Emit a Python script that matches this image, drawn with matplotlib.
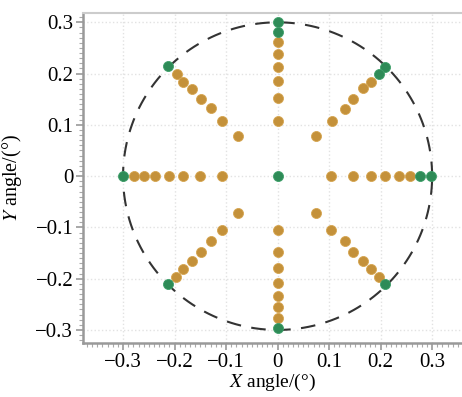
import numpy as np
import matplotlib.pyplot as plt
from matplotlib.ticker import MultipleLocator

# orange (interior) field points
orange_x = [-0.279, -0.260, -0.238, -0.211, -0.184, -0.151, -0.107,
            0.103, 0.147, 0.182, 0.209, 0.236, 0.258,
            0, 0, 0, 0, 0, 0,
            0, 0, 0, 0, 0, 0, 0,
            -0.196, -0.184, -0.167, -0.149, -0.130, -0.107, -0.076,
            0.182, 0.165, 0.147, 0.130, 0.105, 0.074,
            -0.198, -0.184, -0.167, -0.149, -0.130, -0.107, -0.076,
            0.074, 0.103, 0.130, 0.147, 0.165, 0.182, 0.196]
orange_y = [0, 0, 0, 0, 0, 0, 0,
            0, 0, 0, 0, 0, 0,
            0.262, 0.239, 0.213, 0.185, 0.152, 0.107,
            -0.105, -0.148, -0.179, -0.208, -0.233, -0.256, -0.276,
            0.200, 0.184, 0.169, 0.151, 0.132, 0.107, 0.078,
            0.184, 0.171, 0.151, 0.130, 0.107, 0.078,
            -0.196, -0.181, -0.165, -0.148, -0.126, -0.105, -0.072,
            -0.072, -0.105, -0.126, -0.148, -0.165, -0.181, -0.196]

# green (edge / centre) points
green_x = [0, -0.300, 0.277, 0.298, 0, 0, 0, -0.213, 0.209, 0.196, -0.213, 0.209]
green_y = [0, 0, 0, 0, 0.301, 0.282, -0.297, 0.214, 0.212, 0.200, -0.210, -0.210]

radius = 0.3

plt.rcParams['font.family'] = ['Liberation Serif', 'DejaVu Serif']
plt.rcParams['mathtext.fontset'] = 'stix'

fig = plt.figure(figsize=(4.62, 3.97), dpi=100)
ax = fig.add_axes([0.1797, 0.136, 0.8203, 0.831])

ax.grid(True, which='major', color='#e2e2e2', linestyle=':', linewidth=1.0)
ax.set_axisbelow(True)

t = np.linspace(0, 2 * np.pi, 400)
ax.plot(radius * np.cos(t), radius * np.sin(t), color='#333333',
        linestyle=(0, (7, 5)), linewidth=1.5, zorder=2)

ax.scatter(orange_x, orange_y, s=52, color='#c4913a', edgecolors='#d6a652',
           linewidths=0.6, zorder=3)
ax.scatter(green_x, green_y, s=52, color='#2e8b57', edgecolors='#3fa06a',
           linewidths=0.6, zorder=4)

ax.xaxis.set_major_locator(MultipleLocator(0.1))
ax.yaxis.set_major_locator(MultipleLocator(0.1))
ax.xaxis.set_minor_locator(MultipleLocator(0.01))
ax.yaxis.set_minor_locator(MultipleLocator(0.01))

def fmt(v):
    if abs(v) < 1e-9:
        return '0'
    return ('%.1f' % v).replace('-', '\u2212')

ticks = [-0.3, -0.2, -0.1, 0.0, 0.1, 0.2, 0.3]
ax.set_xticks(ticks)
ax.set_xticklabels([fmt(v) for v in ticks])
ax.set_yticks(ticks)
ax.set_yticklabels([fmt(v) for v in ticks])
ax.set_xlim(-0.3777, 0.358)
ax.set_ylim(-0.3255, 0.318)

ax.tick_params(which='major', direction='out', length=5, width=1.2,
               color='#999999', labelsize=15, pad=2)
ax.tick_params(which='minor', direction='out', length=3, width=0.8,
               color='#aaaaaa')
ax.tick_params(top=False, right=False)

for side in ['left', 'bottom']:
    ax.spines[side].set_color('#999999')
    ax.spines[side].set_linewidth(1.8)
ax.spines['top'].set_color('#cccccc')
ax.spines['top'].set_linewidth(1.5)
ax.spines['right'].set_visible(False)

ax.set_xlabel(r'$X$ angle/(°)', fontsize=14)
ax.set_ylabel(r'$Y$ angle/(°)', fontsize=14.5)
ax.xaxis.set_label_coords(0.5, -0.086)
ax.yaxis.set_label_coords(-0.155, 0.5)

fig.savefig('out.png', dpi=100)
